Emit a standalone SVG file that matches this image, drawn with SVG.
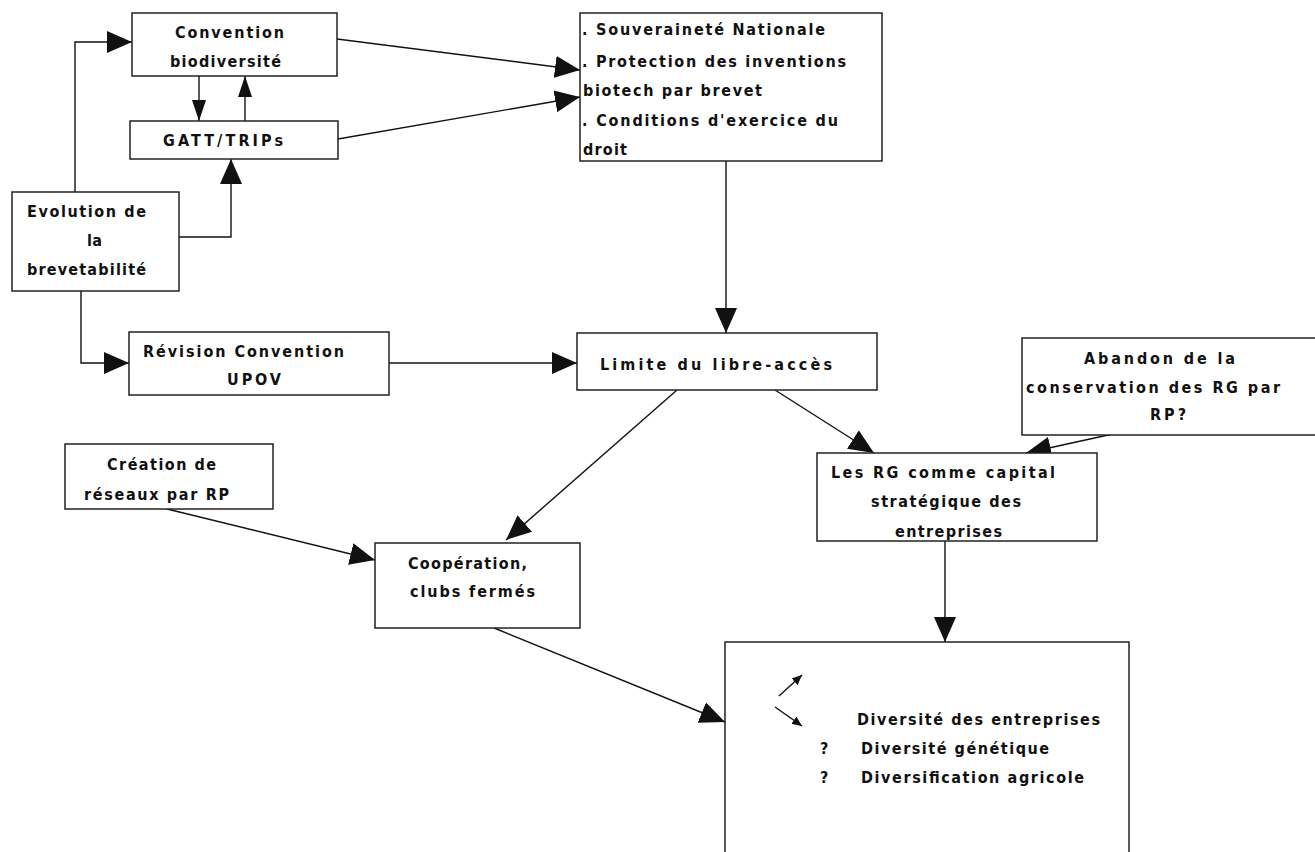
<svg xmlns="http://www.w3.org/2000/svg" width="1315" height="852" viewBox="0 0 1315 852">
<style>
.box{fill:#fff;stroke:#222;stroke-width:1.5}
.ln{fill:none;stroke:#111;stroke-width:1.4}
.big{marker-end:url(#ah)}
.nar{marker-end:url(#an)}
.sm{marker-end:url(#as)}
text{font-family:"Liberation Sans Narrow","DejaVu Sans Condensed","Liberation Sans",sans-serif;font-weight:bold;font-size:16px;fill:#111}
</style>
<defs>
<marker id="ah" markerUnits="userSpaceOnUse" markerWidth="26" markerHeight="22" refX="25" refY="11" orient="auto"><path d="M0,0 L25,11 L0,22 z" fill="#111"/></marker>
<marker id="an" markerUnits="userSpaceOnUse" markerWidth="22" markerHeight="14" refX="21" refY="7" orient="auto"><path d="M0,0 L21,7 L0,14 z" fill="#111"/></marker>
<marker id="as" markerUnits="userSpaceOnUse" markerWidth="11" markerHeight="9" refX="10" refY="4.5" orient="auto"><path d="M0,0 L10,4.5 L0,9 z" fill="#111"/></marker>
</defs>
<g id="connectors">
<polyline class="ln big" points="75,192 75,42 132,42"/>
<polyline class="ln big" points="179,237 231,237 231,159"/>
<line class="ln nar" x1="199" y1="76" x2="199" y2="121"/>
<line class="ln nar" x1="245" y1="121" x2="245" y2="76"/>
<line class="ln big" x1="337" y1="39" x2="580" y2="70"/>
<line class="ln big" x1="338" y1="139" x2="580" y2="97"/>
<line class="ln big" x1="726" y1="161" x2="726" y2="333"/>
<polyline class="ln big" points="81,291 81,363 129,363"/>
<line class="ln big" x1="389" y1="363" x2="577" y2="363"/>
<line class="ln big" x1="677" y1="390" x2="506" y2="540"/>
<line class="ln big" x1="775" y1="390" x2="874" y2="453"/>
<line class="ln big" x1="1163" y1="423" x2="1026" y2="453"/>
<line class="ln big" x1="167" y1="509" x2="375" y2="560"/>
<line class="ln big" x1="945" y1="541" x2="945" y2="642"/>
<line class="ln big" x1="494" y1="628" x2="725" y2="722"/>
</g>
<g id="convention">
<rect class="box" x="132" y="13" width="205" height="63"/>
<text x="175" y="38" textLength="109" lengthAdjust="spacing">Convention</text>
<text x="170" y="67" textLength="111" lengthAdjust="spacing">biodiversité</text>
</g>
<g id="gatt">
<rect class="box" x="130" y="121" width="208" height="38"/>
<text x="163" y="146" textLength="120" lengthAdjust="spacing">GATT/TRIPs</text>
</g>
<g id="evolution">
<rect class="box" x="12" y="192" width="167" height="99"/>
<text x="27" y="217" textLength="119" lengthAdjust="spacing">Evolution de</text>
<text x="87" y="246" textLength="15" lengthAdjust="spacing">la</text>
<text x="27" y="275" textLength="119" lengthAdjust="spacing">brevetabilité</text>
</g>
<g id="souverainete">
<rect class="box" x="580" y="13" width="302" height="148"/>
<text x="582" y="35" textLength="243" lengthAdjust="spacing">. Souveraineté Nationale</text>
<text x="582" y="67" textLength="264" lengthAdjust="spacing">. Protection des inventions</text>
<text x="583" y="96" textLength="179" lengthAdjust="spacing">biotech par brevet</text>
<text x="582" y="126" textLength="256" lengthAdjust="spacing">. Conditions d'exercice du</text>
<text x="583" y="155" textLength="44" lengthAdjust="spacing">droit</text>
</g>
<g id="revision">
<rect class="box" x="129" y="332" width="260" height="63"/>
<text x="143" y="357" textLength="201" lengthAdjust="spacing">Révision Convention</text>
<text x="227" y="385" textLength="54" lengthAdjust="spacing">UPOV</text>
</g>
<g id="limite">
<rect class="box" x="577" y="333" width="300" height="57"/>
<text x="600" y="370" textLength="232" lengthAdjust="spacing">Limite du libre-accès</text>
</g>
<g id="abandon">
<rect class="box" x="1022" y="338" width="300" height="97"/>
<text x="1084" y="364" textLength="151" lengthAdjust="spacing">Abandon de la</text>
<text x="1026" y="393" textLength="254" lengthAdjust="spacing">conservation des RG par</text>
<text x="1150" y="420" textLength="36" lengthAdjust="spacing">RP?</text>
</g>
<g id="rg">
<rect class="box" x="817" y="453" width="280" height="88"/>
<text x="831" y="478" textLength="224" lengthAdjust="spacing">Les RG comme capital</text>
<text x="871" y="507" textLength="150" lengthAdjust="spacing">stratégique des</text>
<text x="895" y="537" textLength="107" lengthAdjust="spacing">entreprises</text>
</g>
<g id="creation">
<rect class="box" x="65" y="444" width="208" height="65"/>
<text x="107" y="470" textLength="109" lengthAdjust="spacing">Création de</text>
<text x="84" y="500" textLength="145" lengthAdjust="spacing">réseaux par RP</text>
</g>
<g id="cooperation">
<rect class="box" x="375" y="543" width="205" height="85"/>
<text x="408" y="569" textLength="119" lengthAdjust="spacing">Coopération,</text>
<text x="410" y="597" textLength="125" lengthAdjust="spacing">clubs fermés</text>
</g>
<g id="diversite">
<rect class="box" x="725" y="642" width="404" height="230"/>
<line class="ln sm" x1="779" y1="696" x2="802" y2="675"/>
<line class="ln sm" x1="775" y1="707" x2="802" y2="726"/>
<text x="857" y="725" textLength="243" lengthAdjust="spacing">Diversité des entreprises</text>
<text x="820" y="754">?</text>
<text x="861" y="754" textLength="188" lengthAdjust="spacing">Diversité génétique</text>
<text x="820" y="783">?</text>
<text x="861" y="783" textLength="223" lengthAdjust="spacing">Diversification agricole</text>
</g>
</svg>
